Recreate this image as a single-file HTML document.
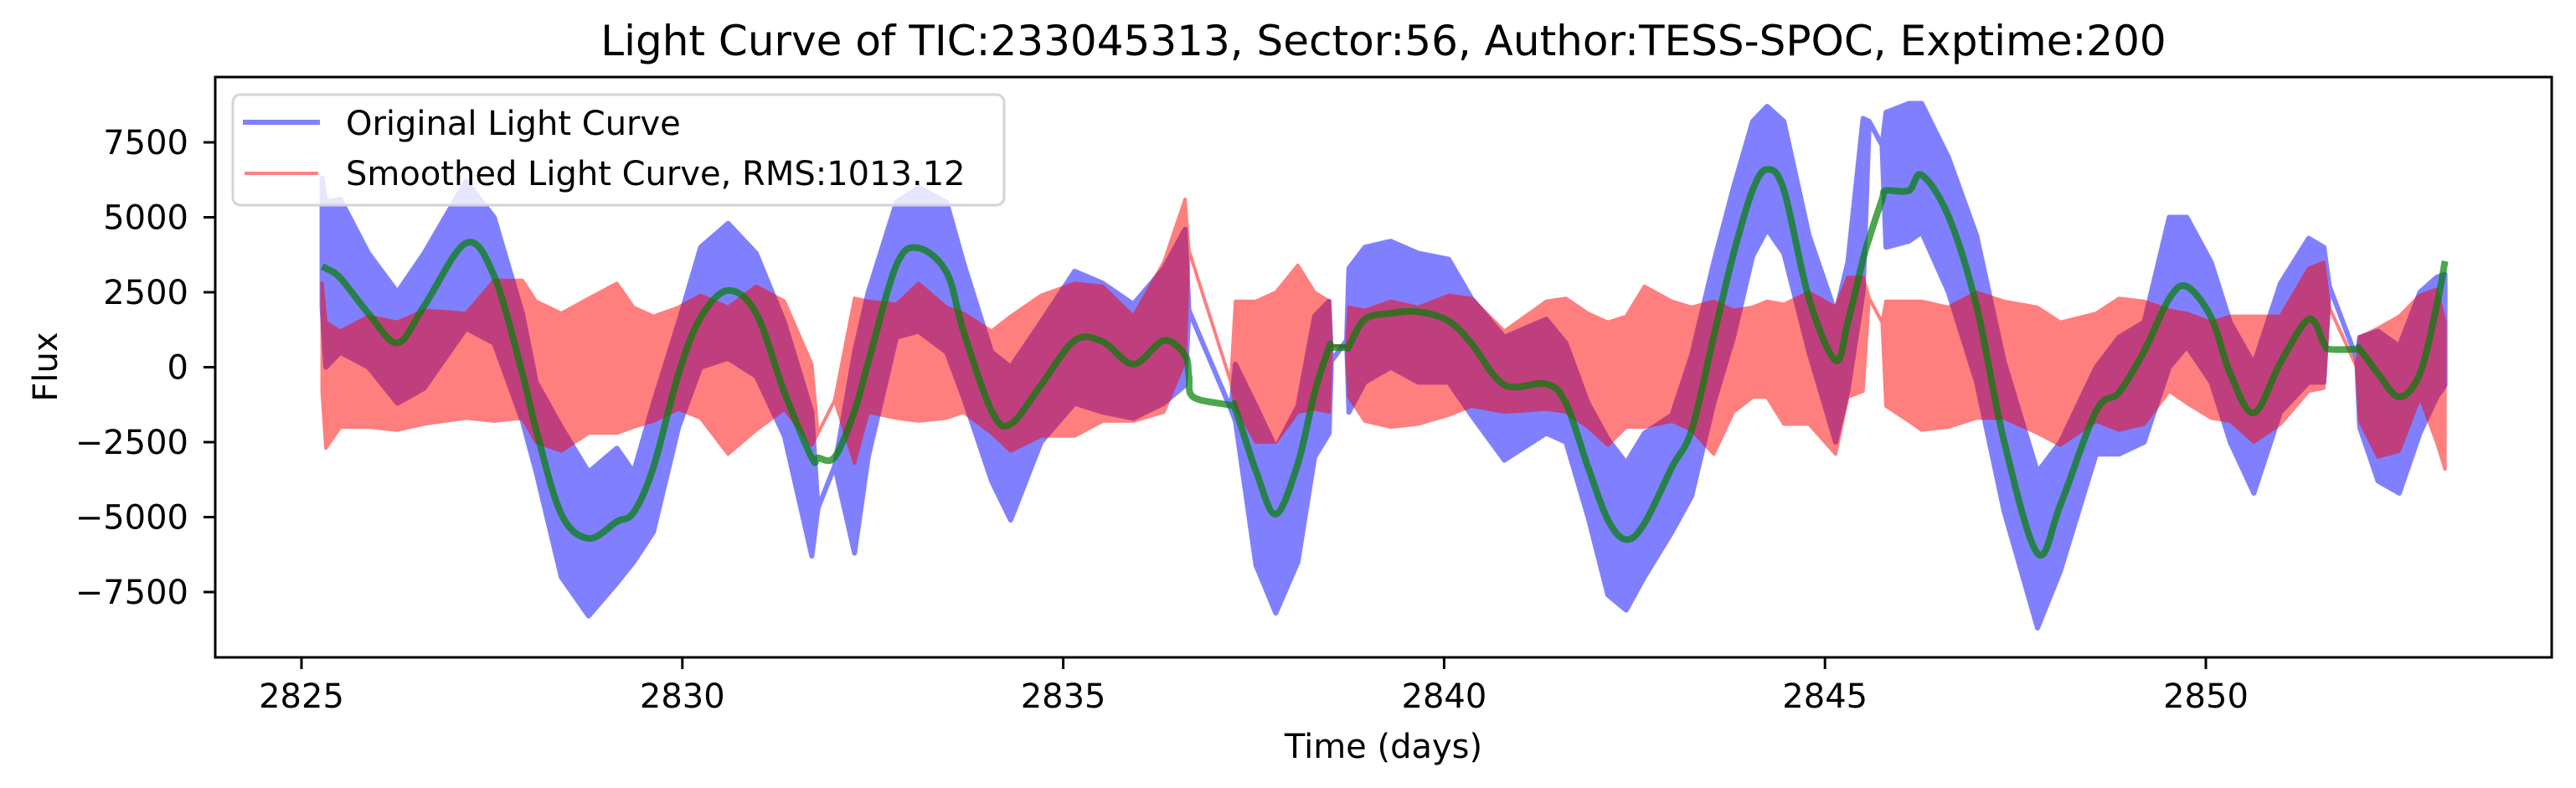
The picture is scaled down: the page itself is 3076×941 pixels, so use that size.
<!DOCTYPE html>
<html><head><meta charset="utf-8"><style>
html,body{margin:0;padding:0;background:#fff;}
svg{display:block;font-family:"DejaVu Sans","Liberation Sans",sans-serif;}
</style></head><body>
<svg id="chart" xmlns="http://www.w3.org/2000/svg" width="3076" height="941" viewBox="0 0 3076 941">
<rect x="0" y="0" width="3076" height="941" fill="#fff"/>
<g id="plot"></g>
<g id="axes"></g>
<text x="1652" y="66" font-size="50" text-anchor="middle" fill="#000">Light Curve of TIC:233045313, Sector:56, Author:TESS-SPOC, Exptime:200</text>
<text x="1652" y="905" font-size="40" text-anchor="middle" fill="#000">Time (days)</text>
<text x="0" y="0" font-size="40" text-anchor="middle" fill="#000" transform="translate(68,438) rotate(-90)">Flux</text>
<g>
<rect x="278" y="113" width="921" height="132" rx="9" fill="rgba(255,255,255,0.8)" stroke="#d4d4d4" stroke-width="3"/>
<line x1="290" y1="146" x2="382" y2="146" stroke="#8080ff" stroke-width="6"/>
<text x="413" y="161" font-size="40" fill="#000">Original Light Curve</text>
<line x1="292" y1="207" x2="380" y2="207" stroke="#ff8080" stroke-width="4"/>
<text x="413" y="221" font-size="40" fill="#000">Smoothed Light Curve, RMS:1013.12</text>
</g>
</svg>
<script>
const times=[2825.27,2825.32,2825.51,2825.88,2826.26,2826.61,2827.16,2827.53,2827.9,2828.08,2828.41,2828.77,2829.14,2829.36,2829.62,2829.95,2830.24,2830.6,2830.97,2831.34,2831.7,2831.78,2832.0,2832.26,2832.44,2832.81,2833.1,2833.47,2833.69,2834.06,2834.31,2834.71,2835.15,2835.52,2835.92,2836.32,2836.6,2836.65,2836.71,2837.2,2837.26,2837.53,2837.79,2838.08,2838.3,2838.49,2838.52,2838.72,2838.75,2838.96,2839.3,2839.66,2840.06,2840.36,2840.79,2841.34,2841.6,2841.89,2842.15,2842.39,2842.63,2842.99,2843.25,2843.54,2843.8,2844.05,2844.24,2844.46,2844.79,2845.14,2845.3,2845.5,2845.58,2845.75,2845.8,2846.1,2846.27,2846.62,2846.99,2847.35,2847.79,2848.09,2848.56,2848.86,2849.19,2849.52,2849.75,2850.07,2850.32,2850.63,2850.98,2851.35,2851.55,2851.62,2851.98,2852.02,2852.26,2852.54,2852.81,2853.03,2853.14];
const smoothFlux=[3350,3300,2975,1790,810,2040,4140,3040,-210,-2090,-4900,-5710,-5150,-4840,-3340,-210,1660,2560,1790,-840,-3025,-3025,-3000,-1460,160,3410,3975,3160,1200,-1460,-1900,-590,890,850,100,890,400,-300,-1000,-1270,-1400,-3460,-4900,-3210,-840,660,660,660,700,1600,1800,1850,1540,790,-590,-560,-1210,-3340,-5090,-5750,-5210,-3340,-2090,1040,3790,5910,6600,5910,2290,225,1500,3600,4300,5600,5890,5890,6410,5040,2040,-2460,-6210,-4590,-1460,-840,540,2290,2690,1660,-210,-1525,160,1600,800,600,600,600,-210,-990,-210,2040,3540];
const originalHigh=[6300,5500,5600,3800,2500,3800,6200,5000,1800,-500,-2000,-3500,-2700,-3500,-1200,1500,4000,4800,3800,1500,-1500,-4700,-3300,500,2500,5500,6000,5500,3500,500,0,1500,3200,2800,2100,3300,4600,1900,1540,-1400,100,-1300,-2700,-1300,1700,2200,200,900,3300,4000,4200,3800,3600,2300,1000,1600,800,-1200,-2400,-3200,-2200,-1600,400,3500,6000,8200,8700,8200,4400,1800,3500,8300,8200,7400,8500,8800,8800,7000,4400,200,-3500,-2500,0,1000,1500,5000,5000,3500,1500,100,2800,4300,4000,2700,300,1000,1200,700,2500,3000,3100];
const originalLow=[2000,0,500,0,-1200,-700,1300,800,-1800,-3500,-7000,-8300,-7200,-6500,-5500,-2000,0,300,-300,-2300,-6300,-4700,-3300,-6200,-3000,1000,1200,500,-1000,-3800,-5100,-2500,-1200,-1500,-1700,-1200,-600,1900,1540,-1400,-1800,-6600,-8200,-6500,-3000,-2200,200,900,-1500,-500,0,-500,-500,-1600,-3100,-2200,-2500,-5000,-7600,-8100,-7000,-5500,-4300,-1200,1000,3700,4600,3800,500,-2500,-800,2500,8200,7400,4000,4200,4500,2500,-500,-4800,-8700,-6800,-2900,-2900,-2500,0,700,-500,-2500,-4200,-1500,-500,-500,2700,300,-2000,-3800,-4200,-2200,-1000,-600];
const residualHigh=[2800,1500,1200,1700,1500,1900,1800,2900,2900,2200,1800,2300,2800,2000,1700,2000,2400,2000,2700,2200,100,-2200,-1100,2300,2200,2100,2800,2000,1800,1200,1700,2400,2800,2700,1700,3500,5600,3900,3420,-500,2200,2200,2500,3400,2500,2200,700,700,2000,1900,2200,2000,2400,2300,1200,2200,2300,1800,1500,1700,2700,2200,2000,2200,1900,2000,2200,2100,2500,2000,3000,3000,2300,1500,2200,2200,2200,2000,2500,2200,2000,1500,1800,2300,2200,1900,1800,1500,1700,1700,1700,3300,3500,2000,0,1000,1300,1700,2400,2600,1500];
const residualLow=[-800,-2700,-2000,-2000,-2100,-1900,-1700,-1800,-1700,-2500,-2800,-2200,-2200,-2000,-1800,-1400,-1700,-2900,-2100,-1400,-2600,-2200,-1100,-3200,-1500,-1700,-1800,-1700,-1500,-2200,-2800,-2300,-2300,-1800,-1800,-1500,200,3900,3420,-500,-1300,-2500,-2500,-1500,-1400,-1500,700,700,-1000,-1800,-2000,-1900,-1600,-1300,-1500,-1400,-1500,-2000,-2600,-2000,-2000,-1800,-2100,-2900,-1500,-1000,-1000,-1900,-1900,-2900,-1000,-800,2300,1500,-1300,-1800,-2100,-2000,-1700,-1700,-2200,-2600,-1800,-2100,-1900,-800,-1200,-1700,-1800,-2500,-1900,-800,-700,2000,0,-1800,-3000,-2800,-1000,-2500,-3400];
const xTickValues=[2825,2830,2835,2840,2845,2850];
const yTickValues=[-7500,-5000,-2500,0,2500,5000,7500];

const NS='http://www.w3.org/2000/svg';
const L=257,R=3047,T=92,B=785;
function xs(t){return 360+(t-2825)*90.96;}
function ys(f){return 438.5-f*0.0358;}
function mk(tag,attrs,parent){const e=document.createElementNS(NS,tag);for(const k in attrs)e.setAttribute(k,attrs[k]);parent.appendChild(e);return e;}
const plot=document.getElementById('plot');
const axes=document.getElementById('axes');

function bandPath(hi,lo){
  let d='';
  for(let i=0;i<times.length;i++)d+=(i?'L':'M')+xs(times[i]).toFixed(1)+','+ys(hi[i]).toFixed(1);
  for(let i=times.length-1;i>=0;i--)d+='L'+xs(times[i]).toFixed(1)+','+ys(lo[i]).toFixed(1);
  return d+'Z';
}
const blue=mk('path',{d:bandPath(originalHigh,originalLow),fill:'#8080ff',stroke:'#8080ff','stroke-width':6,'stroke-linejoin':'round'},plot);


const rg=mk('g',{opacity:0.5},plot);
const red=mk('path',{d:bandPath(residualHigh,residualLow),fill:'#ff0000',stroke:'#ff0000','stroke-width':4,'stroke-linejoin':'round'},rg);



let pts=times.map((t,i)=>[xs(t),ys(smoothFlux[i])]);
let d='M'+pts[0][0]+','+pts[0][1];
for(let i=0;i<pts.length-1;i++){
  const p0=pts[Math.max(0,i-1)],p1=pts[i],p2=pts[i+1],p3=pts[Math.min(pts.length-1,i+2)];
  const c1=[p1[0]+(p2[0]-p0[0])/6,p1[1]+(p2[1]-p0[1])/6];
  const c2=[p2[0]-(p3[0]-p1[0])/6,p2[1]-(p3[1]-p1[1])/6];
  d+='C'+c1[0].toFixed(1)+','+c1[1].toFixed(1)+' '+c2[0].toFixed(1)+','+c2[1].toFixed(1)+' '+p2[0].toFixed(1)+','+p2[1].toFixed(1);
}
const gg=mk('g',{opacity:0.7},plot);
const green=mk('path',{d:d,fill:'none',stroke:'#008000','stroke-width':8,'stroke-linejoin':'round'},gg);



const frame=mk('rect',{x:L,y:T,width:R-L,height:B-T,fill:'none',stroke:'#000','stroke-width':3},axes);


xTickValues.forEach(v=>{
  const x=xs(v);
  const tk=mk('line',{x1:x,y1:B,x2:x,y2:B+14,stroke:'#000','stroke-width':3},axes);
  
  
  const tx=mk('text',{x:x,y:845,'font-size':40,'text-anchor':'middle',fill:'#000'},axes);
  
  
  tx.textContent=String(v);
});
yTickValues.forEach(v=>{
  const y=ys(v);
  const tk=mk('line',{x1:L-14,y1:y,x2:L,y2:y,stroke:'#000','stroke-width':3},axes);
  
  
  const tx=mk('text',{x:225,y:y+14,'font-size':40,'text-anchor':'end',fill:'#000'},axes);
  
  
  tx.textContent=(v<0?'\u2212'+Math.abs(v):String(v));
});
</script>
</body></html>
